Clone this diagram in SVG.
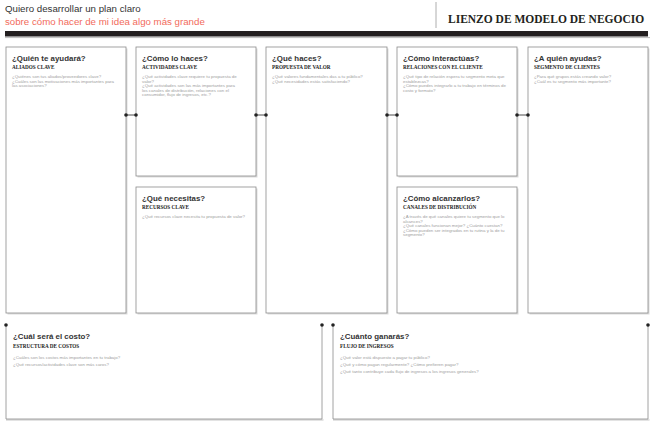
<svg xmlns="http://www.w3.org/2000/svg" width="658" height="431" viewBox="0 0 658 431">
<style>
.bg{fill:#fff}
.shadow{fill:#dcdcdc}
.box{fill:#fff;stroke:#8c8c8c;stroke-width:0.8}
.side{fill:none;stroke:#8c8c8c;stroke-width:0.8}
.t{font-family:"Liberation Sans",Arial,sans-serif;font-weight:bold;font-size:7.9px;fill:#333}
.s{font-family:"Liberation Serif","Times New Roman",serif;font-weight:bold;font-size:5.2px;fill:#222}
.q{font-family:"Liberation Sans",Arial,sans-serif;font-size:4.4px;fill:#9e9e9e}
.conn{stroke:#222;stroke-width:0.8;fill:none}
.dot{fill:#222}
</style>
<rect class="bg" x="0" y="0" width="658" height="431"/>
<g id="header">
<text x="5" y="12" style="font-family:'Liberation Sans',Arial,sans-serif;font-size:9.7px;fill:#333">Quiero desarrollar un plan claro</text>
<text x="5" y="24.5" style="font-family:'Liberation Sans',Arial,sans-serif;font-size:9.7px;fill:#f26b5b">sobre cómo hacer de mi idea algo más grande</text>
<line x1="436" y1="2" x2="436" y2="28" stroke="#9a9a9a" stroke-width="0.8"/>
<text x="448" y="23" style="font-family:'Liberation Serif','Times New Roman',serif;font-weight:bold;font-size:11.5px;fill:#231f20">LIENZO DE MODELO DE NEGOCIO</text>
<rect x="5" y="31" width="643" height="5.5" fill="#231f20"/>
<line x1="5" y1="37.6" x2="650" y2="37.6" stroke="#aaa" stroke-width="0.8"/>
</g>

<g id="aliados">
<rect class="shadow" x="7.5" y="48.5" width="120" height="266"/>
<rect class="box" x="6" y="47" width="120" height="266"/>
<text class="t" x="12" y="60.5">¿Quién te ayudará?</text>
<text class="s" x="12" y="68.5">ALIADOS CLAVE</text>
<text class="q" x="12" y="78">¿Quiénes son tus aliados/proveedores clave?</text>
<text class="q" x="12" y="82.6">¿Cuáles son las motivaciones más importantes para</text>
<text class="q" x="12" y="87.2">las asociaciones?</text>
</g>

<g id="actividades">
<rect class="shadow" x="137.5" y="48.5" width="120" height="129"/>
<rect class="box" x="136" y="47" width="120" height="129"/>
<text class="t" x="142" y="60.5">¿Cómo lo haces?</text>
<text class="s" x="142" y="68.5">ACTIVIDADES CLAVE</text>
<text class="q" x="142" y="78">¿Qué actividades clave requiere tu propuesta de</text>
<text class="q" x="142" y="82.6">valor?</text>
<text class="q" x="142" y="87.2">¿Qué actividades son las más importantes para</text>
<text class="q" x="142" y="91.8">los canales de distribución, relaciones con el</text>
<text class="q" x="142" y="96.4">consumidor, flujo de ingresos, etc.?</text>
</g>

<g id="recursos">
<rect class="shadow" x="137.5" y="188.5" width="120" height="126"/>
<rect class="box" x="136" y="187" width="120" height="126"/>
<text class="t" x="142" y="200.5">¿Qué necesitas?</text>
<text class="s" x="142" y="208.5">RECURSOS CLAVE</text>
<text class="q" x="142" y="218">¿Qué recursos clave necesita tu propuesta de valor?</text>
</g>

<g id="propuesta">
<rect class="shadow" x="267.5" y="48.5" width="121" height="266"/>
<rect class="box" x="266" y="47" width="121" height="266"/>
<text class="t" x="272" y="60.5">¿Qué haces?</text>
<text class="s" x="272" y="68.5">PROPUESTA DE VALOR</text>
<text class="q" x="272" y="78">¿Qué valores fundamentales das a tu público?</text>
<text class="q" x="272" y="82.6">¿Qué necesidades estás satisfaciendo?</text>
</g>

<g id="relaciones">
<rect class="shadow" x="398.5" y="48.5" width="120" height="129"/>
<rect class="box" x="397" y="47" width="120" height="129"/>
<text class="t" x="403" y="60.5">¿Cómo interactúas?</text>
<text class="s" x="403" y="68.5">RELACIONES CON EL CLIENTE</text>
<text class="q" x="403" y="78">¿Qué tipo de relación espera tu segmento meta que</text>
<text class="q" x="403" y="82.6">establezcas?</text>
<text class="q" x="403" y="87.2">¿Cómo puedes integrarlo a tu trabajo en términos de</text>
<text class="q" x="403" y="91.8">costo y formato?</text>
</g>

<g id="canales">
<rect class="shadow" x="398.5" y="188.5" width="120" height="126"/>
<rect class="box" x="397" y="187" width="120" height="126"/>
<text class="t" x="403" y="200.5">¿Cómo alcanzarlos?</text>
<text class="s" x="403" y="208.5">CANALES DE DISTRIBUCIÓN</text>
<text class="q" x="403" y="218">¿A través de qué canales quiere tu segmento que lo</text>
<text class="q" x="403" y="222.6">alcances?</text>
<text class="q" x="403" y="227.2">¿Qué canales funcionan mejor? ¿Cuánto cuestan?</text>
<text class="q" x="403" y="231.8">¿Cómo pueden ser integrados en tu rutina y la de tu</text>
<text class="q" x="403" y="236.4">segmento?</text>
</g>

<g id="segmento">
<rect class="shadow" x="529.5" y="48.5" width="120" height="266"/>
<rect class="box" x="528" y="47" width="120" height="266"/>
<text class="t" x="534" y="60.5">¿A quién ayudas?</text>
<text class="s" x="534" y="68.5">SEGMENTO DE CLIENTES</text>
<text class="q" x="534" y="78">¿Para qué grupos estás creando valor?</text>
<text class="q" x="534" y="82.6">¿Cuál es tu segmento más importante?</text>
</g>

<g id="costos">
<rect class="shadow" x="6" y="419" width="317.5" height="1.8"/>
<path class="side" d="M6,325 V419 H322 V325"/>
<text class="t" x="13" y="339">¿Cuál será el costo?</text>
<text class="s" x="13" y="347.5">ESTRUCTURA DE COSTOS</text>
<text class="q" x="13" y="358.5">¿Cuáles son los costos más importantes en tu trabajo?</text>
<text class="q" x="13" y="365.5">¿Qué recursos/actividades clave son más caros?</text>
</g>

<g id="ingresos">
<rect class="shadow" x="333" y="419" width="316.5" height="1.8"/>
<path class="side" d="M333,325 V419 H648 V325"/>
<text class="t" x="340" y="339">¿Cuánto ganarás?</text>
<text class="s" x="340" y="347.5">FLUJO DE INGRESOS</text>
<text class="q" x="340" y="358.5">¿Qué valor está dispuesto a pagar tu público?</text>
<text class="q" x="340" y="365.5">¿Qué y cómo pagan regularmente? ¿Cómo prefieren pagar?</text>
<text class="q" x="340" y="372.5">¿Qué tanto contribuye cada flujo de ingresos a los ingresos generales?</text>
</g>

<g id="connectors">
<line class="conn" x1="126" y1="115" x2="136" y2="115"/>
<line class="conn" x1="256" y1="115" x2="266" y2="115"/>
<line class="conn" x1="387" y1="115" x2="397" y2="115"/>
<line class="conn" x1="517" y1="115" x2="528" y2="115"/>
<circle class="dot" cx="126" cy="115" r="1.8"/>
<circle class="dot" cx="136" cy="115" r="1.8"/>
<circle class="dot" cx="256" cy="115" r="1.8"/>
<circle class="dot" cx="266" cy="115" r="1.8"/>
<circle class="dot" cx="387" cy="115" r="1.8"/>
<circle class="dot" cx="397" cy="115" r="1.8"/>
<circle class="dot" cx="517" cy="115" r="1.8"/>
<circle class="dot" cx="528" cy="115" r="1.8"/>
<circle class="dot" cx="6" cy="325" r="1.8"/>
<circle class="dot" cx="322" cy="325" r="1.8"/>
<circle class="dot" cx="333" cy="325" r="1.8"/>
<circle class="dot" cx="648" cy="325" r="1.8"/>
</g>
</svg>
